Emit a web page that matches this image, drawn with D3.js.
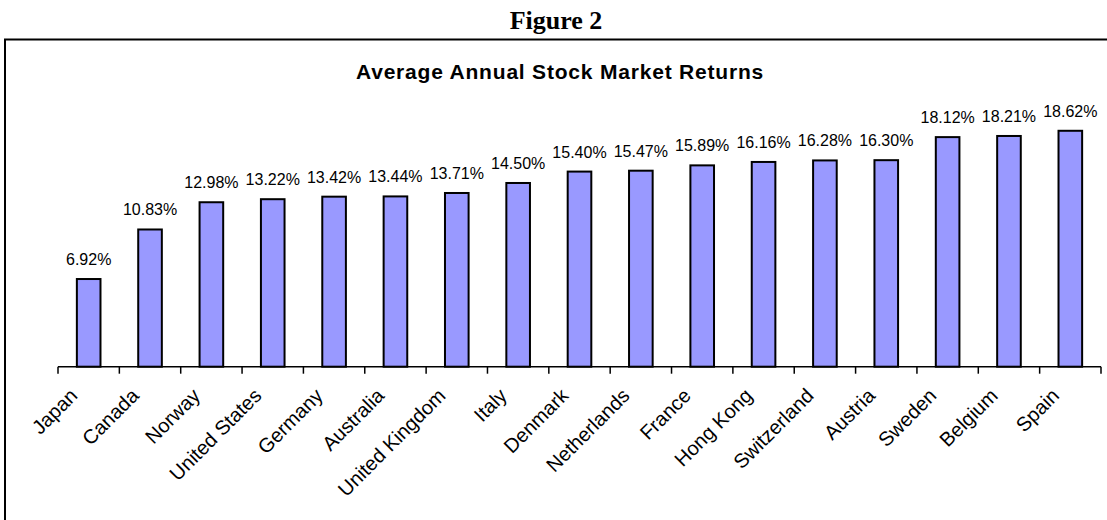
<!DOCTYPE html>
<html>
<head>
<meta charset="utf-8">
<script src="https://cdn.jsdelivr.net/npm/d3@7"></script>
<style>
  html, body { margin: 0; padding: 0; background: #fff; }
  svg { display: block; }
</style>
</head>
<body>
<svg id="chart" width="1107" height="520"></svg>
<script>
const categories = ["Japan", "Canada", "Norway", "United States", "Germany", "Australia",
  "United Kingdom", "Italy", "Denmark", "Netherlands", "France", "Hong Kong",
  "Switzerland", "Austria", "Sweden", "Belgium", "Spain"];
const returns = [6.92, 10.83, 12.98, 13.22, 13.42, 13.44, 13.71, 14.50, 15.40, 15.47,
  15.89, 16.16, 16.28, 16.30, 18.12, 18.21, 18.62];
const figureLabel = "Figure 2";
const chartTitle = "Average Annual Stock Market Returns";
const yDomain = [0, 20];

const svg = d3.select("#chart");
const W = 1107, H = 520;

// Figure caption
svg.append("text")
  .attr("x", 556).attr("y", 29)
  .attr("text-anchor", "middle")
  .style("font-family", "'Liberation Serif', 'Times New Roman', serif")
  .style("font-weight", "bold")
  .style("font-size", "26px")
  .text(figureLabel);

// Frame
svg.append("rect")
  .attr("x", 5).attr("y", 39.5)
  .attr("width", W + 20).attr("height", H)
  .attr("fill", "none").attr("stroke", "#000").attr("stroke-width", 2);

// Title
svg.append("text")
  .attr("x", 560).attr("y", 79)
  .attr("text-anchor", "middle")
  .style("font-family", "'Liberation Sans', Arial, sans-serif")
  .style("font-weight", "bold")
  .style("font-size", "21px")
  .style("letter-spacing", "0.8px")
  .text(chartTitle);

const x0 = 58, x1 = 1101, yBase = 366.7;
const x = d3.scaleBand().domain(categories).range([x0, x1])
  .paddingInner(0.615).paddingOuter(0.3075);
const y = d3.scaleLinear().domain(yDomain).range([yBase, yBase - 20 * 12.67]);

const data = categories.map((c, i) => ({ c, v: returns[i] }));

// Bars
svg.append("g").selectAll("rect").data(data).join("rect")
  .attr("x", d => x(d.c))
  .attr("y", d => y(d.v))
  .attr("width", x.bandwidth())
  .attr("height", d => y(0) - y(d.v))
  .attr("fill", "#9999FF")
  .attr("stroke", "#000")
  .attr("stroke-width", 2);

// Axis line and ticks
const axis = svg.append("g");
axis.append("line")
  .attr("x1", x0).attr("x2", x1).attr("y1", yBase).attr("y2", yBase)
  .attr("stroke", "#000").attr("stroke-width", 1.5);
const tickPos = d3.range(categories.length + 1).map(i => x0 + i * x.step());
axis.selectAll("line.tick").data(tickPos).join("line")
  .attr("class", "tick")
  .attr("x1", d => d).attr("x2", d => d)
  .attr("y1", yBase).attr("y2", yBase + 7)
  .attr("stroke", "#000").attr("stroke-width", 1.5);

// Value labels
svg.append("g").selectAll("text").data(data).join("text")
  .attr("x", d => x(d.c) + x.bandwidth() / 2)
  .attr("y", d => y(d.v) - 14)
  .attr("text-anchor", "middle")
  .style("font-family", "'Liberation Sans', Arial, sans-serif")
  .style("font-size", "16px")
  .text(d => d.v.toFixed(2) + "%");

// Category labels
svg.append("g").selectAll("text").data(data).join("text")
  .attr("transform", d => `translate(${x(d.c) + x.bandwidth() / 2 - 10},397) rotate(-45)`)
  .attr("text-anchor", "end")
  .style("font-family", "'Liberation Sans', Arial, sans-serif")
  .style("font-size", "20px")
  .text(d => d.c);
</script>
</body>
</html>
